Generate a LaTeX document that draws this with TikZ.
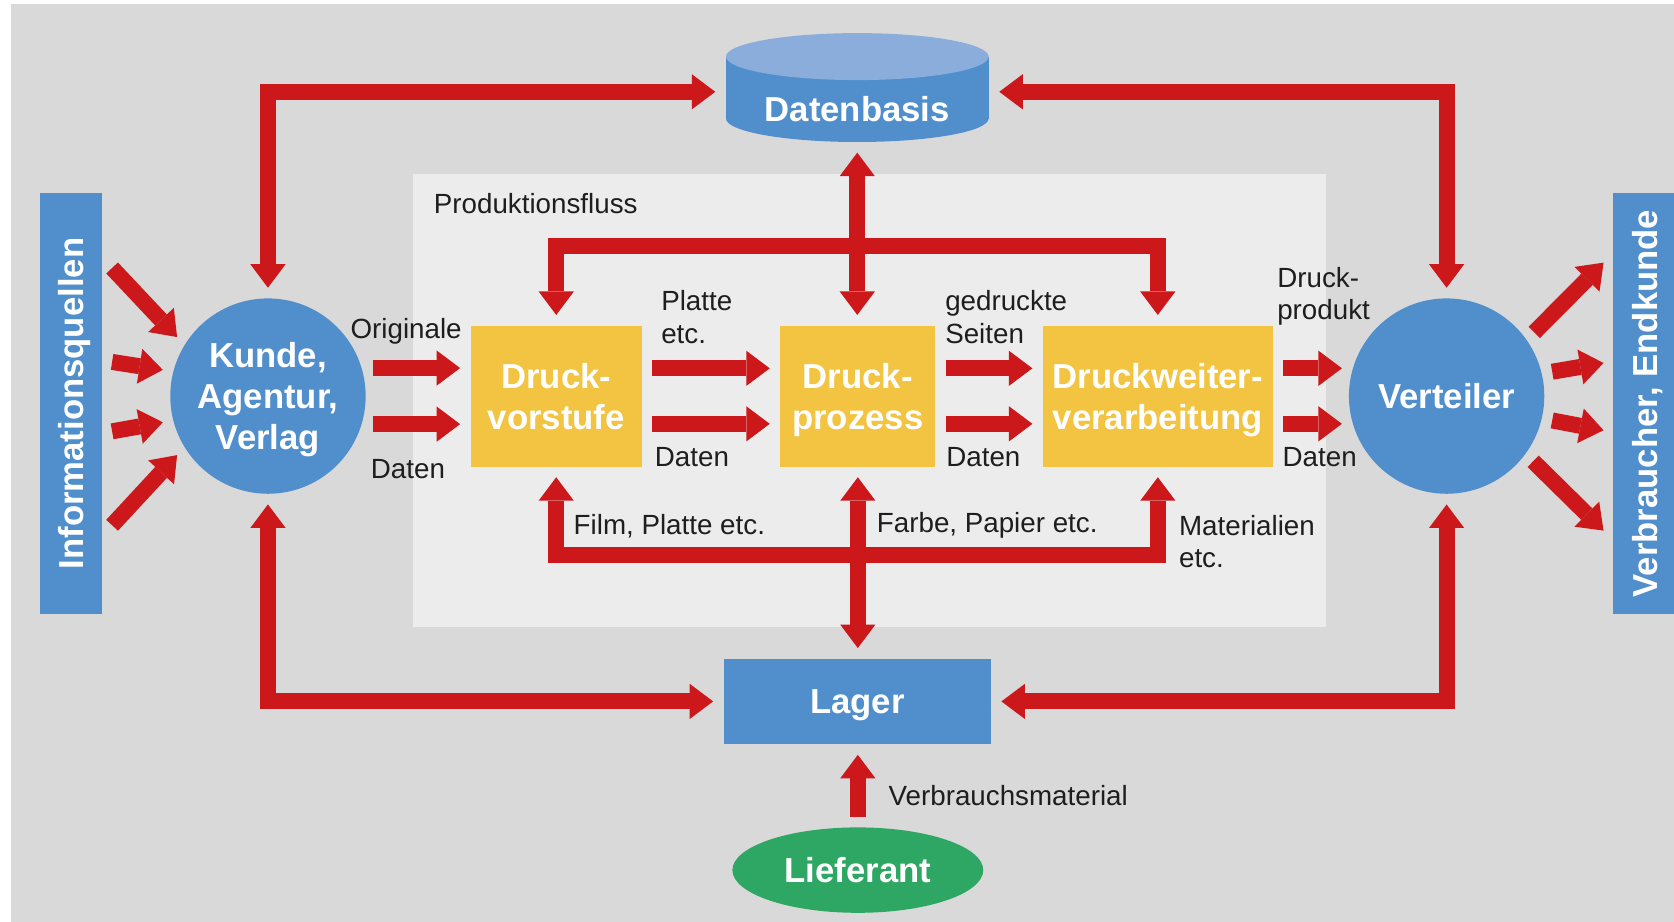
\documentclass[tikz,border=0pt]{standalone}
\usepackage{fontspec}
\setmainfont{Liberation Sans}
\usetikzlibrary{arrows.meta,shapes.geometric,calc}
\definecolor{cblue}{RGB}{80,143,204}
\definecolor{ctop}{RGB}{138,173,220}
\definecolor{cyel}{RGB}{242,196,66}
\definecolor{cred}{RGB}{204,24,27}
\definecolor{cgreen}{RGB}{46,167,100}
\definecolor{cbg}{RGB}{217,217,217}
\definecolor{cinner}{RGB}{236,236,236}
\definecolor{ctext}{RGB}{30,30,30}
\begin{document}
\begin{tikzpicture}[x=0.5pt,y=-0.5pt,
  flow/.style={draw=cred, line width=7.5pt, >={Triangle[width=16.5pt,length=11pt,line width=0pt]}},
  wtext/.style={text=white, font=\fontsize{16.25}{19.25}\selectfont\bfseries, align=center, inner sep=0pt, text depth=0pt},
  lbl/.style={text=ctext, font=\fontsize{13}{15}\selectfont, align=left, inner sep=0pt, anchor=west},
  circ/.style={circle, fill=cblue, minimum size=91.5pt, outer sep=5pt, wtext},
  ybox/.style={rectangle, fill=cyel, minimum height=66pt, outer sep=5pt, wtext},
  sidebox/.style={rectangle, fill=cblue, rotate=90, minimum width=197pt, minimum height=29.5pt, wtext},
]
\useasboundingbox (0,0) rectangle (1568,863);
\fill[white] (0,0) rectangle (1568,863);
\fill[cbg] (10,4) rectangle (1575,870);
\fill[cinner] (387,163) rectangle (1242,587);

% side boxes
\node[sidebox] (info) at (66.5,378) {Informationsquellen};
\node[sidebox] (verbr) at (1540.5,378) {Verbraucher, Endkunde};

% Datenbasis cylinder
\fill[cblue] (680,53) rectangle (926,111);
\fill[cblue] (803,111) ellipse[x radius=123, y radius=22];
\fill[ctop] (803,53) ellipse[x radius=123, y radius=22];
\node[minimum width=123pt, minimum height=47pt, outer sep=5pt, inner sep=0pt] (db) at (803,86) {};
\node[wtext] (dbl) at (803,102) {Datenbasis};

% main nodes
\node[circ] (kunde) at (251,371) {Kunde,\\Agentur,\\Verlag};
\node[circ] (verteiler) at (1355,371) {Verteiler};
\node[ybox, minimum width=80pt] (vorstufe) at (521,371) {Druck-\\vorstufe};
\node[ybox, minimum width=72.5pt] (prozess) at (803.5,371) {Druck-\\prozess};
\node[ybox, minimum width=107.5pt] (weiter) at (1084.5,371) {Druckweiter-\\verarbeitung};
\node[rectangle, fill=cblue, minimum width=125pt, minimum height=40pt, outer sep=5pt, wtext] (lager) at (803,657) {Lager};
\node[ellipse, fill=cgreen, minimum width=117.5pt, minimum height=40pt, outer sep=5pt, wtext] (lief) at (803.5,815) {Lieferant};

% big loops
\draw[flow,<->] (kunde.north) |- (db.west);
\draw[flow,<->] (verteiler.north) |- (db.east);
\draw[flow,<->] (kunde.south) |- (lager.west);
\draw[flow,<->] (verteiler.south) |- (lager.east);

% Datenbasis distribution
\coordinate (tb) at (803,230);
\draw[flow,<->] (db.south) -- (db.south |- prozess.north);
\draw[flow,->] (tb) -| (vorstufe.north);
\draw[flow,->] (tb) -| (weiter.north);

% Lager distribution
\coordinate (bb) at (803,520);
\draw[flow,<->] (prozess.south) -- (prozess.south |- lager.north);
\draw[flow,->] (bb) -| (vorstufe.south);
\draw[flow,->] (bb) -| (weiter.south);
\draw[flow,->] (lief.north) -- (lief.north |- lager.south);

% production flow
\draw[flow,->] (kunde.15) -- (kunde.15 -| vorstufe.west);
\draw[flow,->] (kunde.-15) -- (kunde.-15 -| vorstufe.west);
\draw[flow,->] ([yshift=13pt]vorstufe.east) -- ([yshift=13pt]prozess.west);
\draw[flow,->] ([yshift=-13pt]vorstufe.east) -- ([yshift=-13pt]prozess.west);
\draw[flow,->] ([yshift=13pt]prozess.east) -- ([yshift=13pt]weiter.west);
\draw[flow,->] ([yshift=-13pt]prozess.east) -- ([yshift=-13pt]weiter.west);
\draw[flow,->] ([yshift=13pt]weiter.east) -- ([yshift=13pt]weiter.east -| verteiler.165);
\draw[flow,->] ([yshift=-13pt]weiter.east) -- ([yshift=-13pt]weiter.east -| verteiler.-165);

% information sources
\coordinate (i1) at (105,251);
\coordinate (i2) at (105,339);
\coordinate (i3) at (105,404);
\coordinate (i4) at (105,492);
\draw[flow,->] (i1) -- (kunde.147);
\draw[flow,->] (i2) -- (kunde.166);
\draw[flow,->] (i3) -- (kunde.194);
\draw[flow,->] (i4) -- (kunde.213);

% consumers
\coordinate (o1) at (1502,246);
\coordinate (o2) at (1502,340);
\coordinate (o3) at (1502,403);
\coordinate (o4) at (1502,497);
\draw[flow,->] (verteiler.36) -- (o1);
\draw[flow,->] (verteiler.13) -- (o2);
\draw[flow,->] (verteiler.-13) -- (o3);
\draw[flow,->] (verteiler.-37) -- (o4);

% labels
\node[lbl] (lprod) at (406,191) {Produktionsfluss};
\node[lbl] (lorig) at (328,310) {Originale};
\node[lbl] (ld1) at (347,439) {Daten};
\node[lbl] (lplatte) at (619,297) {Platte\\etc.};
\node[lbl] (ld2) at (613,428) {Daten};
\node[lbl] (lged) at (885,297) {gedruckte\\Seiten};
\node[lbl] (ld3) at (886,428) {Daten};
\node[lbl] (ldp) at (1196,278) {Druck-\\produkt};
\node[lbl] (ld4) at (1201,428) {Daten};
\node[lbl] (lfilm) at (537,493) {Film, Platte etc.};
\node[lbl] (lfarbe) at (821,492) {Farbe, Papier etc.};
\node[lbl] (lmat) at (1104,507) {Materialien\\etc.};
\node[lbl] (lverb) at (832,745) {Verbrauchsmaterial};
\end{tikzpicture}
\end{document}
